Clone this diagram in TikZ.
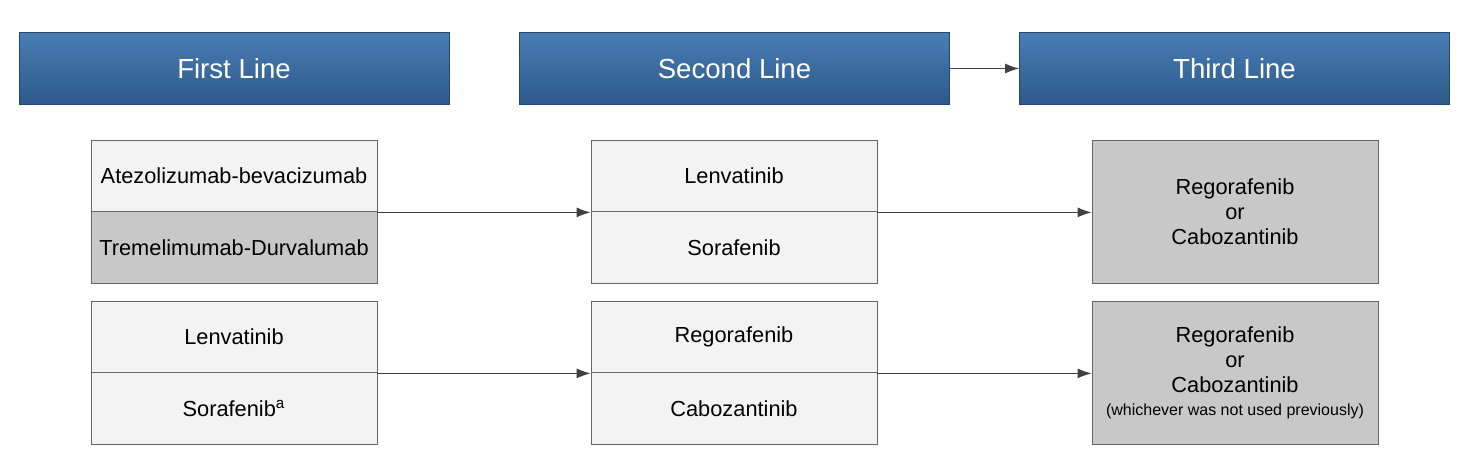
\documentclass[tikz,border=0pt]{standalone}
\usepackage{fontspec}
\setmainfont{Liberation Sans}
\usetikzlibrary{positioning,calc,arrows.meta}
\definecolor{headtop}{RGB}{74,126,180}
\definecolor{headbot}{RGB}{44,89,138}
\definecolor{lightcell}{RGB}{243,243,243}
\definecolor{darkcell}{RGB}{200,200,200}
\begin{document}
\begin{tikzpicture}[x=0.5pt,y=-0.5pt,
head/.style={rectangle,draw=headbot!80!black,top color=headtop,bottom color=headbot,text=white,
  minimum width=215pt,minimum height=36pt,inner sep=0pt,font=\fontsize{13.8}{16}\selectfont},
cell/.style={rectangle,draw=black!60,fill=lightcell,minimum width=143pt,minimum height=36pt,
  inner sep=0pt,font=\fontsize{10.9}{12.5}\selectfont,align=center},
dark/.style={cell,fill=darkcell},
big/.style={cell,minimum height=71.5pt},
edge/.style={-{Latex[length=7pt,width=5pt]},draw=black!75,line width=0.6pt}]

\useasboundingbox (0,0) rectangle (1460,469);

% headers
\node[head](h1) at (234,68.5){First Line};
\node[head](h2) at (734.5,68.5){Second Line};
\node[head](h3) at (1234.5,68.5){Third Line};

% first row
\node[cell](a1) at (234,176){Atezolizumab-bevacizumab};
\node[dark](a2) at (234,247.5){Tremelimumab-Durvalumab};
\node[cell](b1) at (734,176){Lenvatinib};
\node[cell](b2) at (734,247.5){Sorafenib};
\node[big,fill=darkcell](c1) at (1235,211.5){Regorafenib\\or\\Cabozantinib};

% second row
\node[cell](a3) at (234,337){Lenvatinib};
\node[cell](a4) at (234,408.5){Sorafenib\textsuperscript{a}};
\node[cell](b3) at (734,337){Regorafenib};
\node[cell](b4) at (734,408.5){Cabozantinib};
\node[big,fill=darkcell](c2) at (1235,372.5){Regorafenib\\or\\Cabozantinib\\[-1pt]
  {\fontsize{8}{9}\selectfont(whichever was not used previously)}};

% arrows
\draw[edge] (h2.east) -- (h3.west);
\draw[edge] (a1.south east) -- (b1.south west);
\draw[edge] (b1.south east) -- (b1.south east -| c1.west);
\draw[edge] (a3.south east) -- (b3.south west);
\draw[edge] (b3.south east) -- (b3.south east -| c2.west);
\end{tikzpicture}
\end{document}
